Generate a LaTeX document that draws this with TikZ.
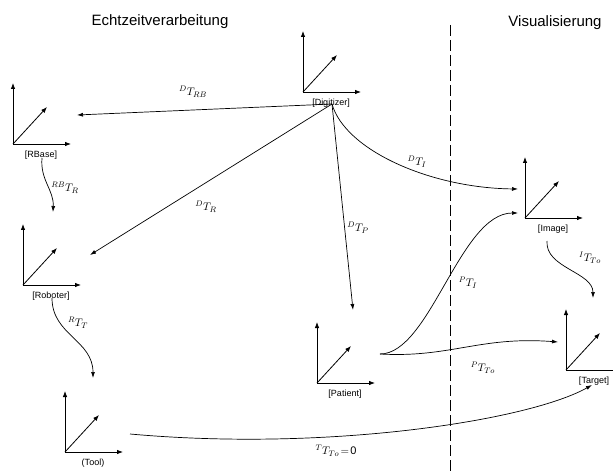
\documentclass[tikz,border=0pt]{standalone}
\usepackage{fontspec}
\setmainfont{Liberation Sans}
\usetikzlibrary{arrows.meta}
\tikzset{
  axis/.style={line width=0.8pt,-{Latex[length=6pt,width=4.5pt]}},
  conn/.style={line width=0.7pt,-{Latex[length=6pt,width=4pt]}},
  flab/.style={font=\fontsize{9}{10}\selectfont,inner sep=0pt},
  tlab/.style={font=\fontsize{11}{13}\selectfont,inner sep=0pt},
  title/.style={font=\fontsize{15}{18}\selectfont,inner sep=0pt},
  cframe/.pic={
    \coordinate (-o) at (0,0);
    \draw[axis] (0,0) -- (0,-61);
    \draw[axis] (0,0) -- (58,0);
    \draw[axis] (0,0) -- (34,-37);
    \node[flab] (-lab) at (28,11) {#1};
  }
}
\begin{document}
\begin{tikzpicture}[x=1pt,y=-1pt]
\useasboundingbox (0,0) rectangle (613,473);
% titles
\node[title] (t1) at (160,22) {Echtzeitverarbeitung};
\node[title] (t2) at (555,23) {Visualisierung};
% separator
\coordinate (sepA) at (450,25);
\coordinate (sepB) at (450,473);
\draw[dash pattern=on 11pt off 4pt,line width=0.7pt] (sepA) -- (sepB);
% frames
\pic (rb) at (13,144) {cframe={[RBase]}};
\pic (dg) at (303,92) {cframe={[Digitizer]}};
\pic (ro) at (23,285) {cframe={[Roboter]}};
\pic (to) at (65,452) {cframe={(Tool)}};
\pic (pa) at (317,383) {cframe={[Patient]}};
\pic (im) at (525,218) {cframe={[Image]}};
\pic (ta) at (566,370) {cframe={[Target]}};
% connector end points
\coordinate (dgout) at (332,104);
\coordinate (rbin) at (77,115);
\coordinate (roinD) at (90,255);
\coordinate (painD) at (353,310);
\coordinate (iminD) at (518,189);
\coordinate (iminP) at (518,213);
\coordinate (paout) at (380,354);
\coordinate (tainP) at (558,342);
\coordinate (imout) at (547,241);
\coordinate (tainI) at (593,298);
\coordinate (toout) at (130,434);
\coordinate (tainT) at (592,385);
\coordinate (rbout) at (42,158);
\coordinate (roinR) at (53,212);
\coordinate (roout) at (52,298);
\coordinate (toinR) at (93,378);
% connectors
\draw[conn] (dgout) -- (rbin);
\draw[conn] (dgout) -- (roinD);
\draw[conn] (dgout) -- (painD);
\draw[conn] (dgout) .. controls (345,150) and (430,188) .. (iminD);
\draw[conn] (paout) .. controls (430,354) and (460,213) .. (iminP);
\draw[conn] (paout) .. controls (450,358) and (480,336) .. (tainP);
\draw[conn] (imout) .. controls (545,268) and (593,272) .. (tainI);
\draw[conn] (toout) .. controls (330,452) and (530,420) .. (tainT);
\draw[conn] (rbout) .. controls (40,180) and (54,190) .. (roinR);
\draw[conn] (roout) .. controls (52,335) and (93,340) .. (toinR);
% labels
\node[tlab] (l1) at (193,92) {$^{D}T_{RB}$};
\node[tlab] (l2) at (206,207) {$^{D}T_{R}$};
\node[tlab] (l3) at (358,228) {$^{D}T_{P}$};
\node[tlab] (l4) at (417,162) {$^{D}T_{I}$};
\node[tlab] (l5) at (468,283) {$^{P}T_{I}$};
\node[tlab] (l6) at (483,368) {$^{P}T_{To}$};
\node[tlab] (l7) at (590,258) {$^{I}T_{To}$};
\node[tlab] (l8) at (336,451) {$^{T}T_{To}\!=\!\mathrm{0}$};
\node[tlab] (l9) at (65,188) {$^{RB}T_{R}$};
\node[tlab] (l10) at (78,323) {$^{R}T_{T}$};
\end{tikzpicture}
\end{document}
